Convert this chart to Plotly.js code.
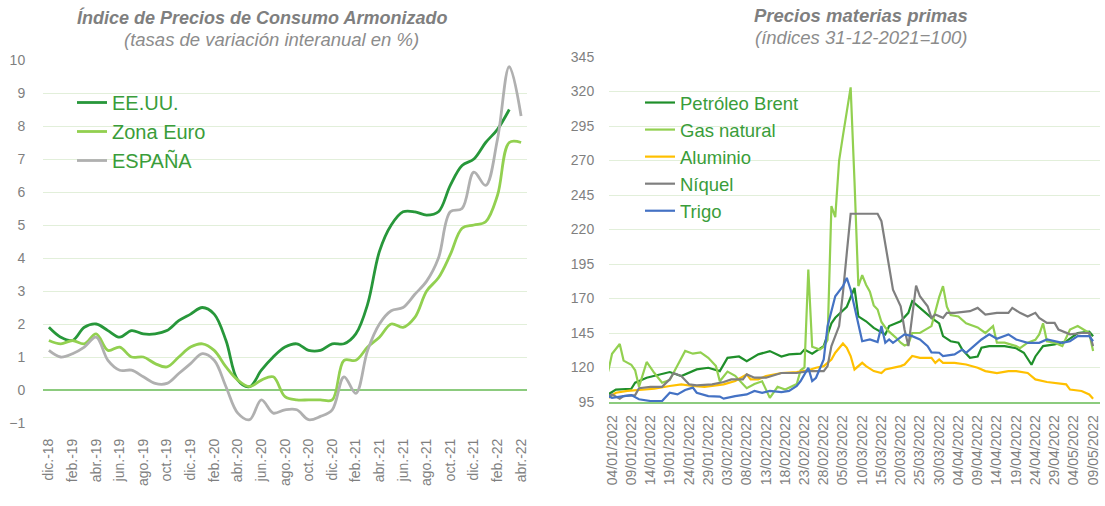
<!DOCTYPE html>
<html>
<head>
<meta charset="utf-8">
<script src="https://cdn.plot.ly/plotly-3.0.1.min.js"></script>
<style>html,body{margin:0;padding:0;background:#fff;}#chart{width:1105px;height:506px;}</style>
</head>
<body>
<div id="chart"></div>
<script>
// ---------- Left chart: HICP, y/y % ----------
const meses = ['dic.-18','ene.-19','feb.-19','mar.-19','abr.-19','may.-19','jun.-19','jul.-19','ago.-19','sep.-19','oct.-19','nov.-19',
  'dic.-19','ene.-20','feb.-20','mar.-20','abr.-20','may.-20','jun.-20','jul.-20','ago.-20','sep.-20','oct.-20','nov.-20',
  'dic.-20','ene.-21','feb.-21','mar.-21','abr.-21','may.-21','jun.-21','jul.-21','ago.-21','sep.-21','oct.-21','nov.-21',
  'dic.-21','ene.-22','feb.-22','mar.-22','abr.-22'];
const eeuu = [1.9,1.6,1.5,1.9,2.0,1.8,1.6,1.8,1.7,1.7,1.8,2.1,2.3,2.5,2.3,1.5,0.3,0.1,0.6,1.0,1.3,1.4,1.2,1.2,1.4,1.4,1.7,2.6,4.2,5.0,5.4,5.4,5.3,5.4,6.2,6.8,7.0,7.5,7.9,8.5];
const zonaEuro = [1.5,1.4,1.5,1.4,1.7,1.2,1.3,1.0,1.0,0.8,0.7,1.0,1.3,1.4,1.2,0.7,0.3,0.1,0.3,0.4,-0.2,-0.3,-0.3,-0.3,-0.3,0.9,0.9,1.3,1.6,2.0,1.9,2.2,3.0,3.4,4.1,4.9,5.0,5.1,5.9,7.5,7.5];
const espana = [1.2,1.0,1.1,1.3,1.6,0.9,0.6,0.6,0.4,0.2,0.2,0.5,0.8,1.1,0.9,0.1,-0.7,-0.9,-0.3,-0.7,-0.6,-0.6,-0.9,-0.8,-0.6,0.4,-0.1,1.2,2.0,2.4,2.5,2.9,3.3,4.0,5.4,5.5,6.6,6.2,7.6,9.8,8.3];
const etiquetasMeses = meses.filter((m, i) => i % 2 === 0);

// ---------- Right chart: commodity prices (31-12-2021 = 100) ----------
const fechasBrent = ['2022-01-03','2022-01-05','2022-01-09','2022-01-10','2022-01-13','2022-01-17','2022-01-19','2022-01-22','2022-01-26','2022-01-29',
  '2022-02-01','2022-02-03','2022-02-06','2022-02-08','2022-02-11','2022-02-14','2022-02-17','2022-02-19','2022-02-22','2022-02-23','2022-02-25','2022-02-28',
  '2022-03-02','2022-03-03','2022-03-06','2022-03-08','2022-03-09','2022-03-11','2022-03-13','2022-03-16','2022-03-17','2022-03-20','2022-03-22','2022-03-23','2022-03-25','2022-03-28','2022-03-30','2022-03-31',
  '2022-04-02','2022-04-04','2022-04-05','2022-04-07','2022-04-09','2022-04-10','2022-04-12','2022-04-16','2022-04-19','2022-04-21','2022-04-23','2022-04-24','2022-04-26','2022-04-29',
  '2022-05-02','2022-05-05','2022-05-08','2022-05-09'];
const brent = [100.5,104,104.6,109,112.6,115,116.7,113.8,118.6,119.8,
  117.4,127,128,124.6,129.5,131.9,128,129.5,130,133,130,135.5,
  152,156,164,177.6,157,153.5,148.7,144,150,153.5,159.6,168,163,156,152,142.7,
  139,138,133,127,128,134.3,135.5,135.5,134,130.7,122,128,135.5,136.7,
  139,145,146,142.7];

const fechasGas = ['2022-01-03','2022-01-04','2022-01-06','2022-01-07','2022-01-09','2022-01-10','2022-01-11','2022-01-13','2022-01-15','2022-01-17','2022-01-19','2022-01-21','2022-01-23','2022-01-25','2022-01-27','2022-01-29','2022-01-31',
  '2022-02-01','2022-02-03','2022-02-05','2022-02-08','2022-02-10','2022-02-12','2022-02-14','2022-02-16','2022-02-18','2022-02-21','2022-02-22','2022-02-23','2022-02-24','2022-02-25','2022-02-27','2022-02-28',
  '2022-03-01','2022-03-02','2022-03-03','2022-03-04','2022-03-05','2022-03-06','2022-03-07','2022-03-08','2022-03-09','2022-03-10','2022-03-11','2022-03-12','2022-03-13','2022-03-14','2022-03-15','2022-03-16','2022-03-17','2022-03-19','2022-03-20','2022-03-21','2022-03-22','2022-03-23','2022-03-25','2022-03-28','2022-03-30','2022-03-31',
  '2022-04-01','2022-04-02','2022-04-04','2022-04-06','2022-04-09','2022-04-11','2022-04-13','2022-04-14','2022-04-16','2022-04-19','2022-04-20','2022-04-22','2022-04-24','2022-04-25','2022-04-26','2022-04-27','2022-04-29',
  '2022-05-01','2022-05-03','2022-05-05','2022-05-08','2022-05-09'];
const gas = [117,130,137,125,122,118,106,124,116,109,111,122,132,130,131,127,121,
  110,117,114,105,108,110,98,106,104,108,118,120,191,135,133,135,
  140,237,229,270,288,305,323,255,179,187,180,175,165,162,153,149,146,141,138,136,137,145,145,150,171,179,
  164,158,157,152,149,145,150,138,138,135.5,134,138,140,144,152,139,138,
  135.5,147.5,150,145,132];

const fechasAluminio = ['2022-01-03','2022-01-05','2022-01-08','2022-01-12','2022-01-15','2022-01-19','2022-01-22','2022-01-25','2022-01-28','2022-01-31',
  '2022-02-02','2022-02-05','2022-02-08','2022-02-09','2022-02-11','2022-02-13','2022-02-17','2022-02-21','2022-02-24','2022-02-26','2022-02-28',
  '2022-03-02','2022-03-03','2022-03-05','2022-03-06','2022-03-07','2022-03-08','2022-03-10','2022-03-11','2022-03-13','2022-03-15','2022-03-16','2022-03-18','2022-03-20','2022-03-21','2022-03-23','2022-03-25','2022-03-28','2022-03-29','2022-03-30','2022-03-31',
  '2022-04-03','2022-04-06','2022-04-09','2022-04-11','2022-04-14','2022-04-17','2022-04-19','2022-04-22','2022-04-24','2022-04-27','2022-04-29',
  '2022-05-02','2022-05-03','2022-05-06','2022-05-08','2022-05-09'];
const aluminio = [98,101.7,103,104,104.6,106.6,107.8,106.6,106,107,
  107.8,110.2,115,111.4,111.4,113.8,116,116.7,118,119.8,121,
  125.8,130.7,137.4,134.3,128.3,118.6,123.4,121,117.4,116,118.6,119.8,121,122.2,128.3,127,127,123.4,125.8,123.4,
  123.4,122.2,119.8,117.4,116,117.4,117.4,116,111.4,109.5,109,
  107.8,104,103,100.5,97.4];

const fechasNiquel = ['2022-01-03','2022-01-04','2022-01-06','2022-01-07','2022-01-10','2022-01-11','2022-01-14','2022-01-17','2022-01-19','2022-01-20','2022-01-22','2022-01-24','2022-01-26','2022-01-30',
  '2022-02-02','2022-02-04','2022-02-07','2022-02-08','2022-02-10','2022-02-13','2022-02-17','2022-02-21','2022-02-24','2022-02-28',
  '2022-03-01','2022-03-02','2022-03-04','2022-03-05','2022-03-06','2022-03-07','2022-03-14','2022-03-15','2022-03-17','2022-03-18','2022-03-20','2022-03-21','2022-03-22','2022-03-23','2022-03-24','2022-03-25','2022-03-27','2022-03-28','2022-03-29','2022-03-31',
  '2022-04-01','2022-04-03','2022-04-07','2022-04-09','2022-04-11','2022-04-14','2022-04-17','2022-04-18','2022-04-20','2022-04-22','2022-04-24','2022-04-25','2022-04-27','2022-04-29','2022-04-30',
  '2022-05-03','2022-05-06','2022-05-08','2022-05-09'];
const niquel = [99,100.5,97.4,99.3,100,105,106,106,111.4,116,113.8,107.8,107,107.8,
  109.5,111.4,111.4,115,112.6,112.6,116,116,117.4,117.4,
  121,135.5,150,174,203,231.4,231.4,226,193,176.4,164.4,147.5,135.5,157,179.3,171.6,164.4,156,158.4,156,
  159.6,159.6,160.8,163.2,158.4,159.6,159.6,163.2,159.6,157,159.6,156,152.3,152.3,147.5,
  144,145,145,135.5];

const fechasTrigo = ['2022-01-03','2022-01-04','2022-01-07','2022-01-09','2022-01-11','2022-01-14','2022-01-17','2022-01-19','2022-01-21','2022-01-23','2022-01-25','2022-01-26','2022-01-29',
  '2022-02-01','2022-02-02','2022-02-05','2022-02-08','2022-02-10','2022-02-12','2022-02-14','2022-02-17','2022-02-19','2022-02-21','2022-02-22','2022-02-24','2022-02-25','2022-02-26','2022-02-28',
  '2022-03-01','2022-03-03','2022-03-05','2022-03-06','2022-03-07','2022-03-09','2022-03-10','2022-03-12','2022-03-14','2022-03-15','2022-03-16','2022-03-17','2022-03-18','2022-03-21','2022-03-23','2022-03-25','2022-03-27','2022-03-28','2022-03-30','2022-03-31',
  '2022-04-03','2022-04-05','2022-04-06','2022-04-08','2022-04-10','2022-04-12','2022-04-14','2022-04-17','2022-04-19','2022-04-22','2022-04-25','2022-04-27','2022-04-29',
  '2022-05-01','2022-05-03','2022-05-05','2022-05-08','2022-05-09'];
const trigo = [99.3,98,99.3,100,97,95.7,95.7,101.7,100.5,103.7,105.4,101.7,99.3,
  98.9,97.4,99.3,100.5,103,101.7,103,102.2,103,106.6,110.2,119.8,110.2,112.6,125.8,
  150,171.6,178.9,184.9,176.4,150,139,140.3,138.4,150,137.9,140.3,137.9,144,142.7,140.3,135.5,131,130.7,128.3,
  129.5,133,130.7,135.5,140.3,144,140.8,144,140.3,137.9,137.9,140.3,139,
  137.9,139,142.7,142.7,139];

const fechasEje = ['2022-01-04','2022-01-09','2022-01-14','2022-01-19','2022-01-24','2022-01-29','2022-02-03','2022-02-08','2022-02-13','2022-02-18',
  '2022-02-23','2022-02-28','2022-03-05','2022-03-10','2022-03-15','2022-03-20','2022-03-25','2022-03-30','2022-04-04','2022-04-09',
  '2022-04-14','2022-04-19','2022-04-24','2022-04-29','2022-05-04','2022-05-09'];

// ---------- styles ----------
const FONT = 'Liberation Sans, Arial, sans-serif';
const GRAY = '#7F7F7F';
const GRID = '#E2EFDA';
const AXISGREEN = '#8CCB7E';
const LEGENDGREEN = '#3A9D3A';

function lineTrace(x, y, name, color, width, shape, xa, ya, legend, group) {
  return {x: x, y: y, name: name, type: 'scatter', mode: 'lines',
    line: {color: color, width: width, shape: shape, smoothing: 1},
    xaxis: xa, yaxis: ya, legend: legend, legendgroup: group, hoverinfo: 'skip'};
}

const traces = [
  lineTrace(meses.slice(0, eeuu.length), eeuu, 'EE.UU.', '#27973A', 2.8, 'spline', 'x', 'y', 'legend', 'a1'),
  lineTrace(meses.slice(0, zonaEuro.length), zonaEuro, 'Zona Euro', '#92D050', 2.8, 'spline', 'x', 'y', 'legend', 'a2'),
  lineTrace(meses.slice(0, espana.length), espana, 'ESPAÑA', '#B0B0B0', 2.8, 'spline', 'x', 'y', 'legend', 'a3'),
  lineTrace(fechasBrent, brent, 'Petróleo Brent', '#1F8F2A', 2.2, 'linear', 'x2', 'y2', 'legend2', 'b1'),
  lineTrace(fechasGas, gas, 'Gas natural', '#92D050', 2.2, 'linear', 'x2', 'y2', 'legend2', 'b2'),
  lineTrace(fechasAluminio, aluminio, 'Aluminio', '#FFC000', 2.2, 'linear', 'x2', 'y2', 'legend2', 'b3'),
  lineTrace(fechasNiquel, niquel, 'Níquel', '#7F7F7F', 2.2, 'linear', 'x2', 'y2', 'legend2', 'b4'),
  lineTrace(fechasTrigo, trigo, 'Trigo', '#4472C4', 2.2, 'linear', 'x2', 'y2', 'legend2', 'b5')
];

const W = 1105, H = 506;
const layout = {
  width: W, height: H, autosize: false,
  margin: {l: 0, r: 0, t: 0, b: 0},
  paper_bgcolor: '#FFFFFF', plot_bgcolor: '#FFFFFF',
  font: {family: FONT, color: GRAY},
  showlegend: true,
  xaxis: {
    domain: [43 / W, 527 / W], type: 'category', range: [-0.5, 40.5],
    tickmode: 'array', tickvals: etiquetasMeses, ticktext: etiquetasMeses,
    tickangle: -90, tickfont: {size: 14, color: GRAY, family: FONT},
    showgrid: false, zeroline: false, showline: false,
    ticks: 'outside', ticklen: 9, tickcolor: 'rgba(0,0,0,0)', fixedrange: true
  },
  yaxis: {
    domain: [1 - 423 / H, 1 - 60 / H], range: [-1, 10], dtick: 1, tick0: 0,
    tickfont: {size: 14, color: GRAY, family: FONT},
    showgrid: true, gridcolor: GRID, gridwidth: 1,
    zeroline: true, zerolinecolor: AXISGREEN, zerolinewidth: 1.5,
    showline: false, ticks: 'outside', ticklen: 14, tickcolor: 'rgba(0,0,0,0)', fixedrange: true
  },
  xaxis2: {
    domain: [609 / W, 1100 / W], anchor: 'y2', type: 'date',
    range: ['2022-01-03 05:00', '2022-05-10 19:00'],
    tickmode: 'array', tickvals: fechasEje, tickformat: '%d/%m/%Y',
    tickangle: -90, tickfont: {size: 14, color: GRAY, family: FONT},
    showgrid: false, zeroline: false,
    showline: true, linecolor: AXISGREEN, linewidth: 1.5,
    ticks: 'outside', ticklen: 6, tickcolor: 'rgba(0,0,0,0)', fixedrange: true
  },
  yaxis2: {
    domain: [1 - 402 / H, 1 - 57 / H], anchor: 'x2', range: [95, 345], dtick: 25, tick0: 95,
    tickfont: {size: 14, color: GRAY, family: FONT},
    showgrid: true, gridcolor: GRID, gridwidth: 1, zeroline: false, showline: false,
    ticks: 'outside', ticklen: 11, tickcolor: 'rgba(0,0,0,0)', fixedrange: true
  },
  legend: {
    x: 72 / W, y: 1 - 83 / H, xanchor: 'left', yanchor: 'top',
    bgcolor: 'rgba(0,0,0,0)', borderwidth: 0,
    font: {size: 20, color: LEGENDGREEN, family: FONT},
    tracegroupgap: 5, traceorder: 'normal', itemclick: false, itemdoubleclick: false
  },
  legend2: {
    x: 640 / W, y: 1 - 84 / H, xanchor: 'left', yanchor: 'top',
    bgcolor: 'rgba(0,0,0,0)', borderwidth: 0,
    font: {size: 18.5, color: LEGENDGREEN, family: FONT},
    tracegroupgap: 3, traceorder: 'normal', itemclick: false, itemdoubleclick: false
  },
  annotations: [
    {xref: 'paper', yref: 'paper', x: 262 / W, y: 1 - 17 / H, xanchor: 'center', yanchor: 'middle', showarrow: false,
     text: '<b><i>Índice de Precios de Consumo Armonizado</i></b>', font: {size: 18, color: GRAY, family: FONT}},
    {xref: 'paper', yref: 'paper', x: 271 / W, y: 1 - 39 / H, xanchor: 'center', yanchor: 'middle', showarrow: false,
     text: '<i>(tasas de variación interanual en %)</i>', font: {size: 18.5, color: '#8C8C8C', family: FONT}},
    {xref: 'paper', yref: 'paper', x: 861 / W, y: 1 - 15 / H, xanchor: 'center', yanchor: 'middle', showarrow: false,
     text: '<b><i>Precios materias primas</i></b>', font: {size: 18.5, color: GRAY, family: FONT}},
    {xref: 'paper', yref: 'paper', x: 861 / W, y: 1 - 37 / H, xanchor: 'center', yanchor: 'middle', showarrow: false,
     text: '<i>(índices 31-12-2021=100)</i>', font: {size: 18.5, color: '#8C8C8C', family: FONT}}
  ]
};

Plotly.newPlot('chart', traces, layout, {staticPlot: true, displayModeBar: false});
</script>
</body>
</html>
